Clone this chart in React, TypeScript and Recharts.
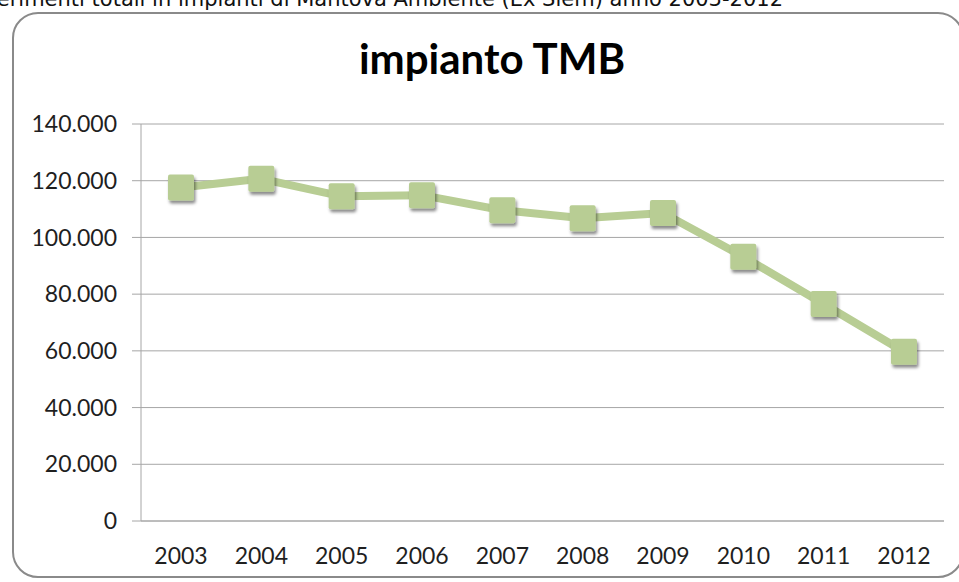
import React from "react";
import { LineChart, Line, XAxis, YAxis, CartesianGrid } from "recharts";

const years: string[] = ["2003", "2004", "2005", "2006", "2007", "2008", "2009", "2010", "2011", "2012"];
const tmbValues: number[] = [117600, 120700, 114500, 114900, 109600, 106800, 108600, 93200, 76500, 59700];
const yTicks: number[] = [0, 20000, 40000, 60000, 80000, 100000, 120000, 140000];
const pageTitle = "Conferimenti totali in impianti di Mantova Ambiente (Ex Siem) anno 2003-2012";
const chartTitle = "impianto TMB";

const data = years.map((y, i) => ({ year: y, value: tmbValues[i] }));

const fmt = (v: number) => String(v).replace(/\B(?=(\d{3})+(?!\d))/g, ".");

const GREEN = "#B8CD94";
const FONT = "Lato, 'Open Sans', sans-serif";

const SquareDot = (props: any) => {
  const { cx, cy } = props;
  if (cx == null || cy == null) return null;
  const s = 26;
  return (
    <rect
      x={cx - s / 2}
      y={cy - s / 2}
      width={s}
      height={s}
      rx={2}
      fill={GREEN}
      filter="url(#mkShadow)"
    />
  );
};

export default function App() {
  return (
    <div style={{ position: "absolute", left: 0, top: 0, width: 959, height: 582, background: "#fff", overflow: "hidden" }}>
      <div
        style={{
          position: "absolute",
          left: 12,
          top: 12,
          width: 952,
          height: 566,
          border: "2.5px solid #8a8a8a",
          borderRadius: 26,
          boxSizing: "border-box",
        }}
      />
      <svg width={959} height={582} style={{ position: "absolute", left: 0, top: 0 }}>
        <defs>
          <filter id="mkShadow" x="-50%" y="-50%" width="200%" height="200%">
            <feDropShadow dx="1.5" dy="3" stdDeviation="1.8" floodColor="#000" floodOpacity="0.45" />
          </filter>
        </defs>
        <text x={783} y={6} textAnchor="end" fontFamily="'DejaVu Sans', sans-serif" fontSize={21} fill="#111">
          {pageTitle}
        </text>
        <text x={492} y={74} textAnchor="middle" fontFamily={FONT} fontWeight={700} fontSize={42} fill="#000">
          {chartTitle}
        </text>
      </svg>
      <div style={{ position: "absolute", left: 0, top: 0 }}>
        <LineChart width={959} height={582} data={data} margin={{ top: 124, right: 15, bottom: 0, left: 41 }}>
          <CartesianGrid vertical={false} stroke="#A6A6A6" strokeWidth={1} />
          <XAxis
            dataKey="year"
            height={61}
            padding={{ left: 40, right: 40 }}
            tickLine={false}
            tickSize={0}
            tickMargin={27}
            axisLine={{ stroke: "#A6A6A6", strokeWidth: 1 }}
            tick={{ fill: "#1f1f1f", fontSize: 23, fontFamily: FONT }}
            interval={0}
          />
          <YAxis
            width={100}
            domain={[0, 140000]}
            ticks={yTicks}
            tickFormatter={fmt}
            tickSize={9}
            tickMargin={15}
            tickLine={{ stroke: "#A6A6A6" }}
            axisLine={{ stroke: "#A6A6A6", strokeWidth: 1 }}
            tick={{ fill: "#1f1f1f", fontSize: 23, fontFamily: FONT }}
            interval={0}
          />
          <Line
            type="linear"
            dataKey="value"
            stroke={GREEN}
            strokeWidth={8}
            dot={<SquareDot />}
            activeDot={false}
            isAnimationActive={false}
          />
        </LineChart>
      </div>
    </div>
  );
}
